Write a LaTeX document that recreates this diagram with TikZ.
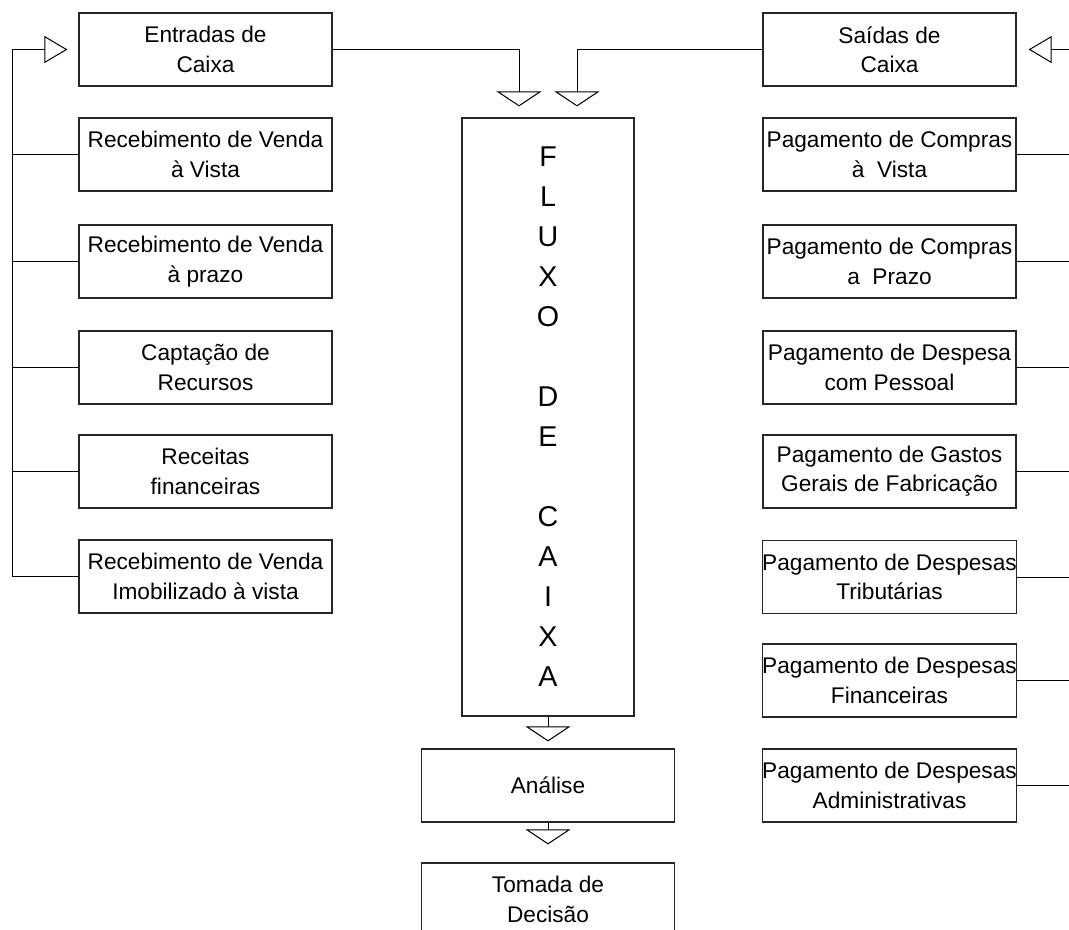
\documentclass[tikz,border=0pt]{standalone}
\usepackage{fontspec}
\setmainfont{Liberation Sans}
\usetikzlibrary{arrows.meta}

\begin{document}
\begin{tikzpicture}[x=0.75pt,y=-0.75pt,line width=0.75pt,
  down/.style={-{Triangle[open,width=33.75pt,length=11.25pt]}},
  side/.style={-{Triangle[open,width=20.25pt,length=17.25pt]}},
  box/.style={draw=black!85,line width=0.9pt,minimum width=189.75pt,minimum height=54.75pt,inner xsep=0pt,align=center,font=\fontsize{17}{22}\selectfont},
  tall/.style={box,minimum width=129pt,minimum height=448.5pt,font=\fontsize{21.5}{30}\selectfont}]
\useasboundingbox (0,0) rectangle (1069,929);
\node[box] (entradas) at (205.5,49.5) {Entradas de\\Caixa};
\node[box] (rec1) at (205.5,154.5) {Recebimento de Venda\\à Vista};
\node[box] (rec2) at (205.5,261.5) {Recebimento de Venda\\à prazo};
\node[box] (capt) at (205.5,367.5) {Captação de\\Recursos};
\node[box] (receitas) at (205.5,471.5) {Receitas\\financeiras};
\node[box] (imob) at (205.5,576.5) {Recebimento de Venda\\Imobilizado à vista};
\node[box] (saidas) at (889.5,49.5) {Saídas de\\Caixa};
\node[box] (pag1) at (889.5,154.5) {Pagamento de Compras\\à\ \ Vista};
\node[box] (pag2) at (889.5,261.5) {Pagamento de Compras\\a\ \ Prazo};
\node[box] (pag3) at (889.5,367.5) {Pagamento de Despesa\\com Pessoal};
\node[box] (pag4) at (889.5,471.5) {Pagamento de Gastos\\Gerais de Fabricação};
\node[box] (pag5) at (889.5,577) {Pagamento de Despesas\\Tributárias};
\node[box] (pag6) at (889.5,680.5) {Pagamento de Despesas\\Financeiras};
\node[box] (pag7) at (889.5,785.5) {Pagamento de Despesas\\Administrativas};
\node[tall] (fluxo) at (548,417) {F\\L\\U\\X\\O\\\mbox{}\\D\\E\\\mbox{}\\C\\A\\I\\X\\A};
\node[box] (analise) at (548,785.5) {Análise};
\node[box] (tomada) at (548,899.5) {Tomada de\\Decisão};
\coordinate (busL) at (12,49.5);
\coordinate (busR) at (1069,49.5);
\draw[down,shorten >=8.25pt] (entradas.east) -| ([xshift=-21.75pt]fluxo.north);
\draw[down,shorten >=8.25pt] (saidas.west) -| ([xshift=21.75pt]fluxo.north);
\draw[down,shorten >=5.25pt] (fluxo) -- (analise);
\draw[down,shorten >=13.5pt] (analise) -- (tomada);
\draw (imob.west) -| (busL);
\draw[side,shorten >=8.25pt] (busL) -- (entradas.west);
\foreach \n in {rec1,rec2,capt,receitas}
  \draw (\n.west) -- (\n.west -| busL);
\foreach \n in {pag1,pag2,pag3,pag4,pag5,pag6,pag7}
  \draw (\n.east) -- (\n.east -| busR);
\draw[side,shorten >=9pt] (busR) -- (saidas.east);
\end{tikzpicture}
\end{document}
